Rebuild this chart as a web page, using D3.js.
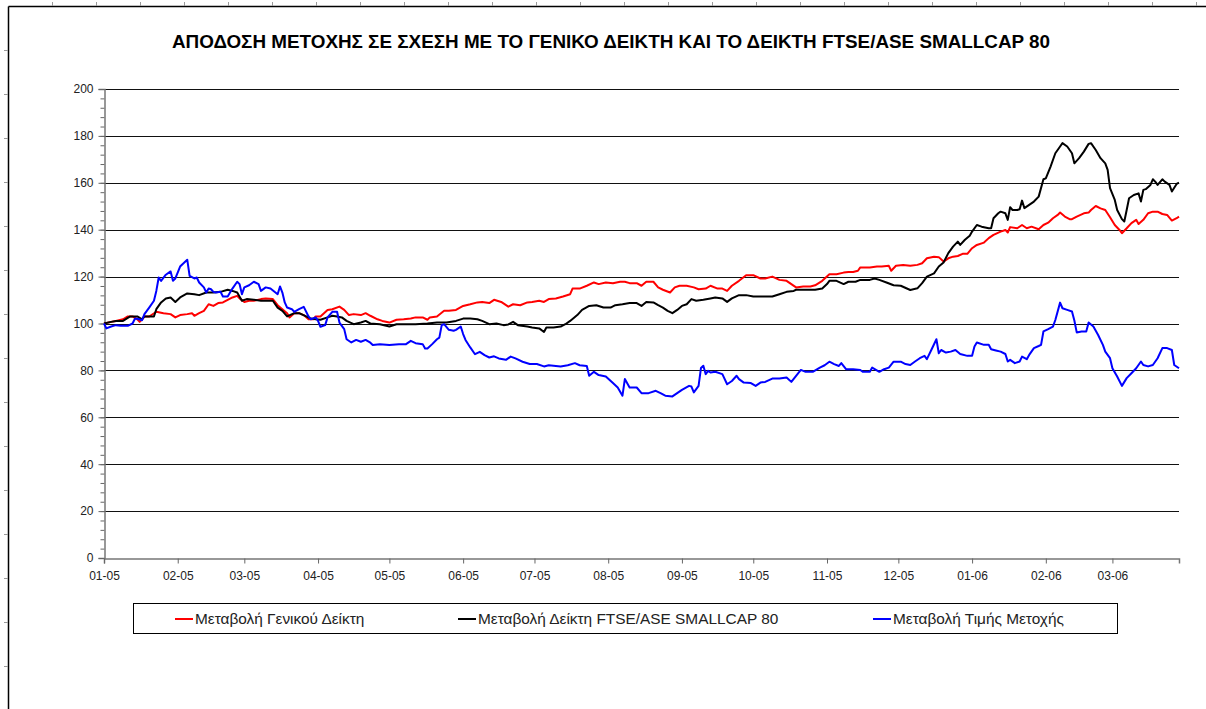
<!DOCTYPE html>
<html>
<head>
<meta charset="utf-8">
<script src="https://cdn.jsdelivr.net/npm/d3@7"></script>
<style>
  html, body { margin: 0; padding: 0; background: #fff; }
  svg { display: block; font-family: "Liberation Sans", Arial, sans-serif; }
</style>
</head>
<body>
<svg id="chart" width="1206" height="709"></svg>
<script>
// ---------------- DATA ----------------
const titleText = "ΑΠΟΔΟΣΗ ΜΕΤΟΧΗΣ ΣΕ ΣΧΕΣΗ ΜΕ ΤΟ ΓΕΝΙΚΟ ΔΕΙΚΤΗ ΚΑΙ ΤΟ ΔΕΙΚΤΗ FTSE/ASE SMALLCAP 80";
const seriesNames = ["Μεταβολή Γενικού Δείκτη", "Μεταβολή Δείκτη FTSE/ASE SMALLCAP 80", "Μεταβολή Τιμής Μετοχής"];
const startDate = "2005-01-01";
const endDate = "2006-03-29";
const yTickValues = [0, 20, 40, 60, 80, 100, 120, 140, 160, 180, 200];

// day offsets from startDate, and values (base 100)
const generalDays = [0,3,5,8,10,12,14,15,17,19,22,25,28,30,32,35,37,38,40,42,44,46,48,50,52,54,56,57,59,61,63,66,68,71,73,75,77,78,80,82,84,86,88,89,91,94,96,99,101,103,105,108,110,
  112,115,117,120,123,126,129,131,134,136,137,140,143,145,148,151,154,157,159,162,164,167,170,172,175,178,180,183,185,187,190,193,196,197,200,203,206,208,211,214,217,219,221,224,226,
  228,231,233,235,238,240,242,245,248,250,253,255,258,260,262,264,267,270,273,276,278,281,284,287,289,291,294,297,299,302,305,308,311,313,315,317,318,322,325,327,330,331,333,336,
  339,342,344,346,349,351,353,355,357,359,361,363,365,367,370,372,374,377,379,380,381,384,386,388,390,393,395,397,399,401,402,404,406,407,409,412,414,415,417,419,421,423,425,427,428,430,432,434,435,437,439,441,443,445,447,449,451,452];
const generalValues = [100,100.7,101.1,101.8,103,103,101.8,100.7,103,103,105,104.4,104,102.6,103.6,104,104.4,103.3,104.4,105.4,108.2,107.5,108.7,109,110.1,111.1,111.8,110.7,109.2,109.7,109.7,110.4,110.7,110.4,107.8,106.1,104.4,102.6,104.4,104.4,103.6,101.8,101.8,103,103,105.8,106.1,107.2,105.8,103.6,104,103.6,104.4,
  103.3,101.8,101.1,100.4,101.6,101.8,102.1,102.6,102.6,101.6,102.6,103,105.4,105.4,105.8,107.5,108.2,109,109.2,108.7,110.1,109.2,107.2,108.2,107.8,109,109.2,109.7,109.2,110.4,110.7,111.5,112.5,114.9,114.9,116.1,117.5,116.8,117.5,117.2,117.8,117.8,117.2,117.2,116.1,
  117.8,117.8,115.4,114.4,113.2,115.4,116.1,116.1,115.4,114.6,114.9,116.1,114.9,114.9,113.9,116.1,118.2,120.6,120.6,119.2,119.2,120,118.6,118.2,116.8,115.4,115.8,115.8,116.3,118.2,121,121,121.7,122,122,122.5,123.9,123.9,124.3,124.3,124.6,122.5,124.6,124.9,
  124.6,125,125.7,127.8,128.5,128.3,126.4,127.8,128.5,128.8,129.7,129.7,132.1,133.5,134.5,136.4,137.8,139.2,139.9,138.8,141.1,140.6,142,140.6,141.3,140.2,142,143,144.9,146.3,147.3,145.6,144.5,144.5,145.6,147,147.3,148.4,150.1,149.1,148.4,145.3,142,139.9,138.5,140.6,142.8,144.2,142.4,144.2,147,147.7,147.7,146.7,146.3,143.9,144.9,145.6];

const smallcapDays = [0,3,5,8,11,14,16,17,21,22,24,26,28,30,32,35,38,40,43,46,49,52,54,56,58,60,63,66,68,71,73,75,77,80,82,85,87,89,91,94,96,98,100,102,105,108,110,
  112,116,120,123,127,131,136,140,144,148,151,154,157,159,162,165,168,170,172,174,178,180,183,185,186,189,192,194,196,199,201,204,207,210,213,215,218,221,224,226,
  228,231,233,235,237,239,241,243,245,247,249,252,255,257,260,262,264,267,270,273,276,278,281,284,287,290,291,294,297,299,302,304,305,308,311,313,316,318,322,324,326,329,332,335,
  339,342,344,346,349,351,353,355,357,359,360,362,364,365,367,369,372,373,374,376,377,379,380,381,382,384,385,386,387,389,391,393,395,396,398,400,402,403,405,407,408,410,412,414,415,417,419,421,422,423,425,426,428,429,430,431,433,435,436,437,438,440,441,442,443,445,446,448,449,451,452];
const smallcapValues = [100,100.7,101.1,101.1,103,103,101.8,103,103,106.1,109,110.7,111.1,109.2,111.1,112.8,112.5,112.1,113.2,113.2,113.5,114.4,113.9,113.2,109.7,110.4,110.1,109.7,109.7,109.7,106.8,105.4,103,104.4,104.4,103,102.1,101.8,101.6,102.6,103.3,103,102.6,101.1,99.7,100.4,101.1,
  100,99.7,98.7,99.7,99.7,99.7,100,100.4,100.4,101.1,102.1,102.1,101.8,101.1,99.7,100,99.3,99.6,100.7,99.3,98.7,98.3,97.9,96.4,98.3,98.3,98.7,99.7,101.1,103.6,105.8,107.5,107.8,106.8,106.8,107.8,108.2,108.7,108.7,107.5,
  109.2,109,107.8,106.8,105.4,104.4,105.8,107.5,108.2,110.4,109.7,110.1,110.7,111.1,110.7,109.2,110.7,112.1,112.1,111.5,111.5,111.5,111.5,112.5,113.5,113.9,114.4,114.4,114.4,114.4,114.9,116.8,118.2,118.2,116.8,117.8,117.8,118.6,118.6,119.2,118.6,117.5,116.3,116.1,
  114.3,115,117.2,120,121.4,124.3,126,130,132.8,134.9,133.5,135.7,137.4,139.2,142,141.3,140.6,140.6,144.9,147,147.7,147,144.2,149.6,148.4,148.4,148.7,152.4,149.2,150.6,152,154.1,161.5,161.9,166.9,172.6,175.5,176.9,175.5,172.6,168.3,170.5,173.3,176.6,176.9,174,170.5,168.3,165.5,157.7,152.7,148.4,144.5,143.5,148.4,153.4,154.8,155.5,152,157,157.3,159.1,161.5,160.5,159.1,161.5,160.5,159.1,156.3,159.5,160.1];

const stockDays = [0,1,3,5,7,10,12,13,14,16,17,19,21,22,23,24,26,28,29,30,32,33,35,36,38,39,40,42,43,44,45,46,47,49,50,52,53,54,56,57,58,59,61,63,65,66,68,70,73,74,75,76,77,79,80,82,84,86,87,89,90,91,93,94,96,98,99,101,102,104,106,108,110,
  112,113,116,120,124,127,129,131,134,135,136,138,140,141,142,143,145,147,148,150,151,152,154,156,158,160,162,164,166,169,171,173,176,179,182,185,187,190,192,195,198,200,203,204,206,208,211,214,216,218,219,221,224,226,
  227,229,232,234,236,239,241,243,246,247,248,250,251,252,253,254,255,257,260,262,264,266,267,269,272,274,276,278,281,284,287,289,291,293,295,298,301,303,305,307,309,310,312,315,318,319,322,323,326,328,330,332,335,337,
  339,341,343,345,346,348,350,351,352,354,356,358,360,363,365,366,367,370,372,373,375,377,379,380,381,383,385,386,388,389,391,393,394,395,397,399,400,402,403,405,407,408,409,411,413,414,416,418,420,421,423,424,426,428,430,432,434,436,437,439,441,443,445,447,449,450,452];
const stockValues = [100,97.9,98.7,99.3,99,99,100,102,102,101.4,104,106.8,109.7,113.9,119.6,118.2,120.8,122.2,118.2,119.2,124.3,125.3,127.2,120.3,119.2,119.6,117.5,115.4,113.2,114.9,114.6,113.5,113.2,113.5,111.5,111.5,113.2,114.9,117.8,116.8,112.5,115.4,116.3,117.8,116.8,113.9,115.4,114.9,112.5,115.8,113.2,109,106.8,106.1,105,106.1,107.1,103,101.8,102.6,101.1,98.6,99.3,102.6,105,105,100.4,97.6,93.3,91.9,93,92.2,93,
  91.8,90.8,91.2,90.8,91.2,91.2,92.6,91.6,91.2,89.3,89.3,91.2,93.3,94,99.3,99.7,97.3,96.9,97.3,98.7,95.5,93,89.8,86.9,87.9,86.5,85.5,86,85.1,84.5,85.9,85.1,83.7,82.7,82.7,81.7,82.2,81.9,81.7,82.2,83.1,82.2,81.9,77.7,79.4,78,77.4,74.6,72.7,69.2,76.3,72.7,72.7,70.3,
  70.3,70.3,71.3,70.3,69.2,68.9,70.3,71.7,73.4,73.1,70.6,73.4,81,82,78.4,79.8,79.1,79.4,78.4,74.1,75.5,77.7,76.3,74.8,74.6,73.4,74.8,75.1,76.5,76.5,77,75.1,77.7,80.2,79.4,79.4,81.2,82.2,83.7,82.7,81.9,83.1,80.5,80.5,80.2,79.4,79.4,81.2,79.4,80.5,81.2,83.7,83.7,82.7,
  82.3,83.8,85.2,86.2,84.8,89,93.3,87.3,88.7,87.6,88,88.7,87,86.2,86.2,90.2,91.9,90.9,90.9,89,88.5,88,87,83.8,84.5,83.1,83.8,85.9,84.8,86.6,89.5,90.4,90.9,96.6,97.6,98.7,101.5,108.9,106.5,105.8,105.1,101.3,96.2,96.6,96.6,100.4,98.7,95.1,90.9,88,85.2,80.9,77.4,73.4,76.7,78.8,80.9,83.8,82.3,81.7,82.3,85.2,89.5,89.5,88.7,82.3,80.9];

const seriesColors = ["#ff0000", "#000000", "#0000ff"];

// ---------------- CHART ----------------
const svg = d3.select("#chart");
const parse = d3.utcParse("%Y-%m-%d");
const t0 = parse(startDate), t1 = parse(endDate);
const margin = {left: 104, right: 1179, top: 89, bottom: 558};

const x = d3.scaleUtc().domain([t0, t1]).range([margin.left, margin.right]);
const y = d3.scaleLinear().domain([0, 200]).range([margin.bottom, margin.top]);

// page frame (spreadsheet border)
const frame = svg.append("g").attr("stroke", "#000").attr("fill", "none");
frame.append("line").attr("x1", 8.5).attr("x2", 1206).attr("y1", 6.5).attr("y2", 6.5).attr("stroke-width", 1.5);
frame.append("line").attr("x1", 8.5).attr("x2", 8.5).attr("y1", 6.5).attr("y2", 709).attr("stroke-width", 1.5);
d3.range(52, 1206, 44).forEach(px => {
  frame.append("line").attr("x1", px + 0.5).attr("x2", px + 0.5).attr("y1", 2).attr("y2", 6).attr("stroke", "#999");
});
d3.range(50, 709, 44).forEach(py => {
  frame.append("line").attr("x1", 4).attr("x2", 8).attr("y1", py + 0.5).attr("y2", py + 0.5).attr("stroke", "#999");
});

// title
svg.append("text")
  .attr("x", 611).attr("y", 48)
  .attr("text-anchor", "middle")
  .attr("font-size", 18.5).attr("font-weight", "bold")
  .attr("textLength", 878).attr("lengthAdjust", "spacingAndGlyphs")
  .attr("fill", "#000")
  .text(titleText);

// gridlines
svg.append("g")
  .selectAll("line")
  .data(yTickValues.filter(v => v > 0))
  .join("line")
  .attr("x1", margin.left).attr("x2", margin.right)
  .attr("y1", d => Math.round(y(d)) + 0.5).attr("y2", d => Math.round(y(d)) + 0.5)
  .attr("stroke", "#111").attr("stroke-width", 1);

// y minor ticks
const yMinor = svg.append("g")
  .attr("transform", `translate(${margin.left + 0.5},0)`)
  .call(d3.axisLeft(y).tickValues(d3.range(0, 201, 4)).tickSize(4).tickFormat(""));
yMinor.select(".domain").remove();
yMinor.selectAll("line").attr("stroke", "#666");

// y axis
const yAxis = svg.append("g")
  .attr("transform", `translate(${margin.left + 0.5},0)`)
  .call(d3.axisLeft(y).tickValues(yTickValues).tickSize(6).tickPadding(5));
yAxis.select(".domain").attr("stroke", "#777").attr("stroke-width", 1.5);
yAxis.selectAll(".tick line").attr("stroke", "#666");
yAxis.selectAll("text").attr("font-size", 12).attr("fill", "#222")
  .attr("font-family", "'Liberation Sans', Arial, sans-serif");

// x axis
const xAxis = svg.append("g")
  .attr("transform", `translate(0,${margin.bottom + 0.5})`)
  .call(d3.axisBottom(x).ticks(d3.utcMonth.every(1)).tickFormat(d3.utcFormat("%m-%y")).tickSize(5).tickPadding(8));
xAxis.select(".domain").attr("stroke", "#777").attr("stroke-width", 1.5);
xAxis.selectAll(".tick line").attr("stroke", "#666");
xAxis.selectAll("text").attr("font-size", 12).attr("fill", "#222")
  .attr("font-family", "'Liberation Sans', Arial, sans-serif");

// lines
const seriesData = [
  generalDays.map((d, i) => ({date: d3.utcDay.offset(t0, d), value: generalValues[i]})),
  smallcapDays.map((d, i) => ({date: d3.utcDay.offset(t0, d), value: smallcapValues[i]})),
  stockDays.map((d, i) => ({date: d3.utcDay.offset(t0, d), value: stockValues[i]}))
];
const line = d3.line().x(d => x(d.date)).y(d => y(d.value));
svg.append("g")
  .selectAll("path")
  .data(seriesData)
  .join("path")
  .attr("d", line)
  .attr("fill", "none")
  .attr("stroke", (d, i) => seriesColors[i])
  .attr("stroke-width", 2)
  .attr("stroke-linejoin", "round");

// legend
const legend = svg.append("g");
legend.append("rect")
  .attr("x", 133.5).attr("y", 603.5).attr("width", 984).attr("height", 30)
  .attr("fill", "#fff").attr("stroke", "#000").attr("stroke-width", 1);
const legendX = [175, 458, 873];
seriesNames.forEach((name, i) => {
  legend.append("line")
    .attr("x1", legendX[i]).attr("x2", legendX[i] + 18)
    .attr("y1", 619).attr("y2", 619)
    .attr("stroke", seriesColors[i]).attr("stroke-width", 2);
  legend.append("text")
    .attr("x", legendX[i] + 20).attr("y", 624)
    .attr("font-size", 15.4).attr("fill", "#222")
    .text(name);
});
</script>
</body>
</html>
